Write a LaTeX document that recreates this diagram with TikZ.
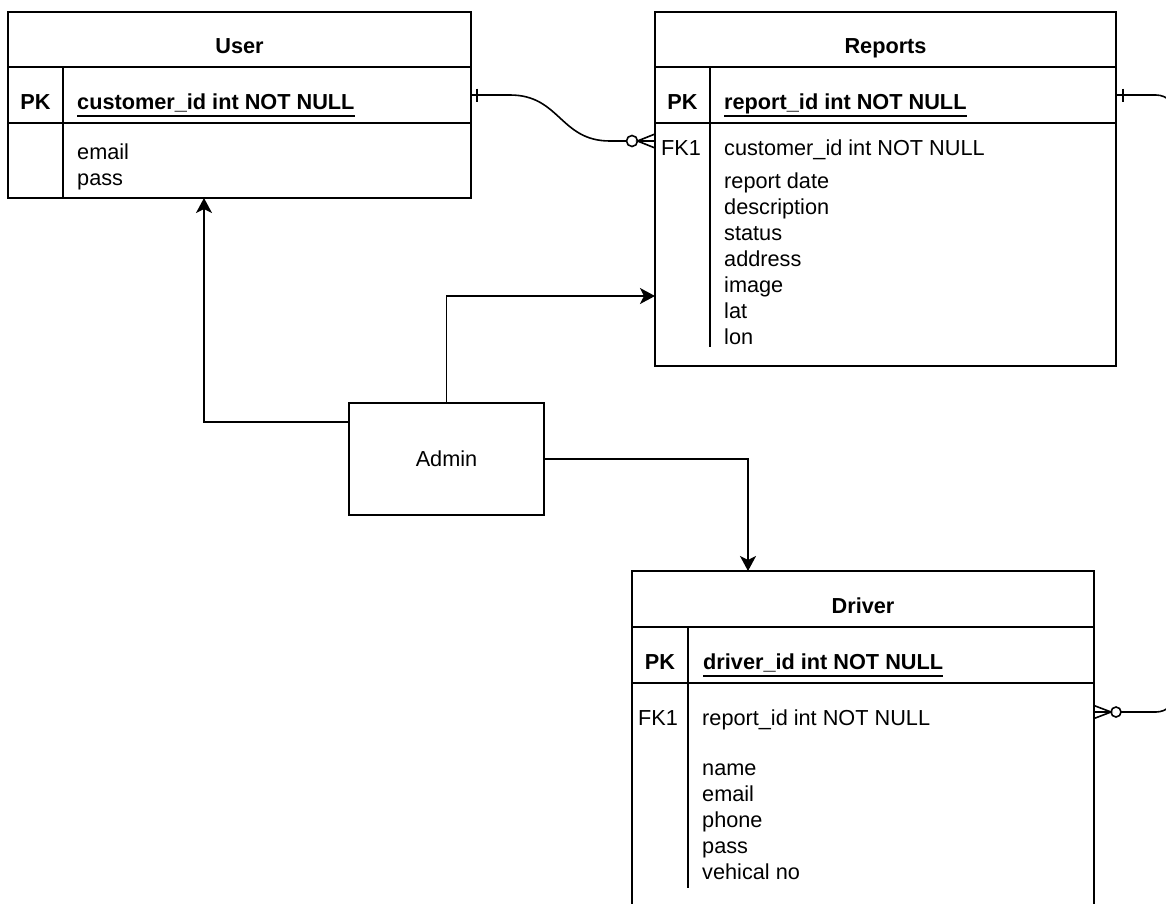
\documentclass[tikz,border=0pt]{standalone}
\usepackage{fontspec}
\setmainfont{Liberation Sans}
\usetikzlibrary{arrows.meta,calc}
\begin{document}
\begin{tikzpicture}[x=1pt,y=-1pt,
  tbl/.style={draw, line width=1.8pt, inner sep=0pt, outer sep=0pt, rectangle},
  sepline/.style={line width=1.8pt},
  conn/.style={line width=1.6pt},
  arr/.style={line width=1.6pt, -{Stealth[length=15pt,width=16pt,inset=4pt]}},
  txt/.style={inner sep=0pt, font=\fontsize{21.7}{26}\selectfont, anchor=base west},
  ctxt/.style={txt, anchor=base},
  btxt/.style={inner sep=0pt, font=\fontsize{21.7}{26}\selectfont\bfseries, anchor=base west},
  cbtxt/.style={btxt, anchor=base},
  uline/.style={line width=2pt}
]
\useasboundingbox (0,0) rectangle (1166,903);
\fill[white] (0,0) rectangle (1166,903);
\clip (0,0) rectangle (1166,903);

% ---------- tables ----------
\node[tbl, minimum width=463pt, minimum height=186pt] (user) at (239.5,105) {};
\draw[sepline] (8,67) -- (471,67) (8,123) -- (471,123) (63,67) -- (63,198);

\node[tbl, minimum width=461pt, minimum height=354pt] (reports) at (885.5,189) {};
\draw[sepline] (655,67) -- (1116,67) (655,123) -- (1116,123) (710,67) -- (710,347);

\node[tbl, minimum width=462pt, minimum height=359pt] (driver) at (863,750.5) {};
\draw[sepline] (632,627) -- (1094,627) (632,683) -- (1094,683) (688,627) -- (688,888);

\node[tbl, minimum width=195pt, minimum height=112pt, font=\fontsize{21.7}{26}\selectfont] (admin) at (446.5,459) {\raisebox{-4pt}{Admin}};

% ---------- User texts ----------
\node[cbtxt] (uT) at (239.5,53) {User};
\node[cbtxt] (uPK) at (35.5,109) {PK};
\node[btxt] (uID) at (77,109) {customer\_id int NOT NULL};
\draw[uline] ([yshift=-7pt]uID.base west) -- ([yshift=-7pt]uID.base east);
\node[txt] (uE) at (77,159) {email};
\node[txt] (uP) at (77,185) {pass};

% ---------- Reports texts ----------
\node[cbtxt] (rT) at (885.5,53) {Reports};
\node[cbtxt] (rPK) at (682.5,109) {PK};
\node[btxt] (rID) at (724,109) {report\_id int NOT NULL};
\draw[uline] ([yshift=-7pt]rID.base west) -- ([yshift=-7pt]rID.base east);
\node[ctxt] (rFK) at (681,155) {FK1};
\node[txt] (rC) at (724,155) {customer\_id int NOT NULL};
\node[txt] (r1) at (724,188) {report date};
\node[txt] (r2) at (724,214) {description};
\node[txt] (r3) at (724,240) {status};
\node[txt] (r4) at (724,266) {address};
\node[txt] (r5) at (724,292) {image};
\node[txt] (r6) at (724,318) {lat};
\node[txt] (r7) at (724,344) {lon};

% ---------- Driver texts ----------
\node[cbtxt] (dT) at (863,613) {Driver};
\node[cbtxt] (dPK) at (660,669) {PK};
\node[btxt] (dID) at (703,669) {driver\_id int NOT NULL};
\draw[uline] ([yshift=-7pt]dID.base west) -- ([yshift=-7pt]dID.base east);
\node[ctxt] (dFK) at (658,725) {FK1};
\node[txt] (dR) at (702,725) {report\_id int NOT NULL};
\node[txt] (d1) at (702,775) {name};
\node[txt] (d2) at (702,801) {email};
\node[txt] (d3) at (702,827) {phone};
\node[txt] (d4) at (702,853) {pass};
\node[txt] (d5) at (702,879) {vehical no};

% ---------- Admin arrows ----------
\draw[arr] ([yshift=37pt]admin.west) -| ([xshift=-35.5pt]user.south);
\draw[arr] (admin.north) |- ([yshift=-107pt]reports.west);
\draw[arr] (admin.east) -| ([xshift=-115pt]driver.north);

% ---------- ER relations ----------
\coordinate (uR) at ([yshift=10pt]user.east);
\coordinate (rF) at ([yshift=48pt]reports.west);
\coordinate (rP) at ([yshift=94pt]reports.east);
\coordinate (dF) at ([yshift=-141pt]driver.north east);

% User 1 -- 0..n Reports
\draw[conn] (uR) -- ([xshift=39pt]uR) .. controls ([xshift=89pt]uR) and ([xshift=-95pt]rF) .. ([xshift=-45pt]rF) -- ([xshift=-28.5pt]rF);
\draw[conn] ([xshift=6pt,yshift=6.5pt]uR) -- ([xshift=6pt,yshift=-6.5pt]uR);
\draw[conn] ([xshift=-23pt]rF) circle[radius=5.5pt];
\draw[conn] ([yshift=7pt]rF) -- ([xshift=-17.5pt]rF) -- ([yshift=-7pt]rF) ([xshift=-17.5pt]rF) -- (rF);

% Reports 1 -- 0..n Driver
\draw[conn, rounded corners=20pt] (rP) -- ([xshift=60pt]rP) |- ([xshift=27pt]dF);
\draw[conn] ([xshift=7pt,yshift=6.5pt]rP) -- ([xshift=7pt,yshift=-6.5pt]rP);
\draw[conn] ([xshift=22pt]dF) circle[radius=5pt];
\draw[conn] ([yshift=6.5pt]dF) -- ([xshift=17pt]dF) -- ([yshift=-6.5pt]dF) ([xshift=17pt]dF) -- (dF);
\end{tikzpicture}
\end{document}
